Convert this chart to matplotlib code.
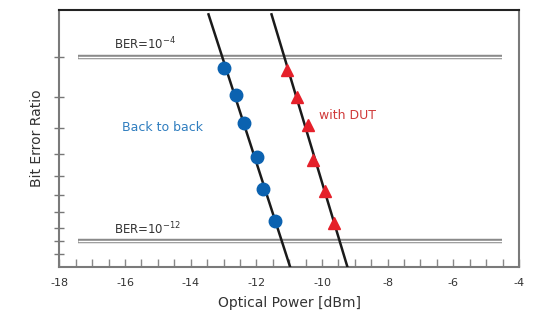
import math
import numpy as np
import matplotlib
matplotlib.use('Agg')
import matplotlib.pyplot as plt

plt.rcParams['font.family'] = ['DejaVu Sans']
plt.rcParams['axes.unicode_minus'] = False

# measured points (optical power in dBm, bit error ratio)
b2b_power = [-12.99, -12.62, -12.38, -11.98, -11.80, -11.43]
b2b_ber = [5.6e-5, 1.1e-5, 1.5e-6, 7.5e-8, 2.2e-9, 2.8e-11]
dut_power = [-11.07, -10.77, -10.43, -10.28, -9.92, -9.62]
dut_ber = [5.0e-5, 9.7e-6, 1.3e-6, 5.5e-8, 1.7e-9, 2.0e-11]

ber_limits = [1e-4, 1e-12]
limit_labels = [r'BER=10$^{\mathregular{-4}}$', r'BER=10$^{\mathregular{-12}}$']
y_ticks_ber = [10.0 ** -n for n in range(4, 14)]
x_major = [-18, -16, -14, -12, -10, -8, -6, -4]


def qinv(ber):
    lo, hi = 0.0, 40.0
    for _ in range(80):
        mid = 0.5 * (lo + hi)
        if 0.5 * math.erfc(mid / math.sqrt(2)) > ber:
            lo = mid
        else:
            hi = mid
    return 0.5 * (lo + hi)


def yq(ber):
    return np.log10([qinv(b) for b in np.atleast_1d(ber)])


fig = plt.figure(figsize=(5.35, 3.13), dpi=100)
ax = fig.add_axes([0.111, 0.147, 0.859, 0.822])

ytop = yq(7.9e-4)[0]
ybot = yq(7.6e-15)[0]
ax.set_xlim(-18, -4)
ax.set_ylim(ybot, ytop)

# BER reference lines (double line look)
for ber in ber_limits:
    y = yq(ber)[0]
    ax.plot([-17.44, -4.52], [y, y], color='#8a8a8a', lw=3.2, solid_capstyle='butt', zorder=2)
    ax.plot([-17.44, -4.52], [y, y], color='white', lw=1.0, solid_capstyle='butt', zorder=2)
ax.text(-16.35, yq(1e-4)[0] - 0.012, limit_labels[0], fontsize=8.5, color='#333333')
ax.text(-16.35, yq(1e-12)[0] - 0.011, limit_labels[1], fontsize=8.5, color='#333333')

# fitted lines through measured points
ys = np.linspace(yq(7.9e-4)[0] + 0.007, ybot, 50)
for px, pb in [(b2b_power, b2b_ber), (dut_power, dut_ber)]:
    k, c = np.polyfit(yq(pb), px, 1)
    ax.plot(k * ys + c, ys, color='#1a1a1a', lw=1.8, zorder=3)

ax.plot(b2b_power, yq(b2b_ber), 'o', color='#0b62b0', ms=9, zorder=4)
ax.plot(dut_power, yq(dut_ber), '^', color='#e5202a', ms=8.5, zorder=4)

ax.text(-16.1, yq(1.0e-6)[0], 'Back to back', fontsize=9, color='#2f7dbf', va='center')
ax.text(-10.1, yq(2.7e-6)[0], 'with DUT', fontsize=9, color='#d03a3a', va='center')

ax.set_yticks(yq(y_ticks_ber))
ax.set_yticklabels([])
ax.set_xticks(x_major)
ax.set_xticks(np.arange(-18, -4, 0.5), minor=True)
ax.tick_params(axis='y', direction='inout', length=7, width=1, color='#777777')
ax.tick_params(axis='x', which='both', direction='in', length=6, width=1,
               color='#888888', labelsize=8, labelcolor='#333333', pad=8)
for s in ax.spines.values():
    s.set_color('#7a7a7a')
    s.set_linewidth(1.5)
ax.spines['top'].set_color('#222222')

ax.set_xlabel('Optical Power [dBm]', fontsize=10, color='#333333', labelpad=6)
ax.set_ylabel('Bit Error Ratio', fontsize=10, color='#333333', labelpad=4)

fig.savefig('out.png', dpi=100)
